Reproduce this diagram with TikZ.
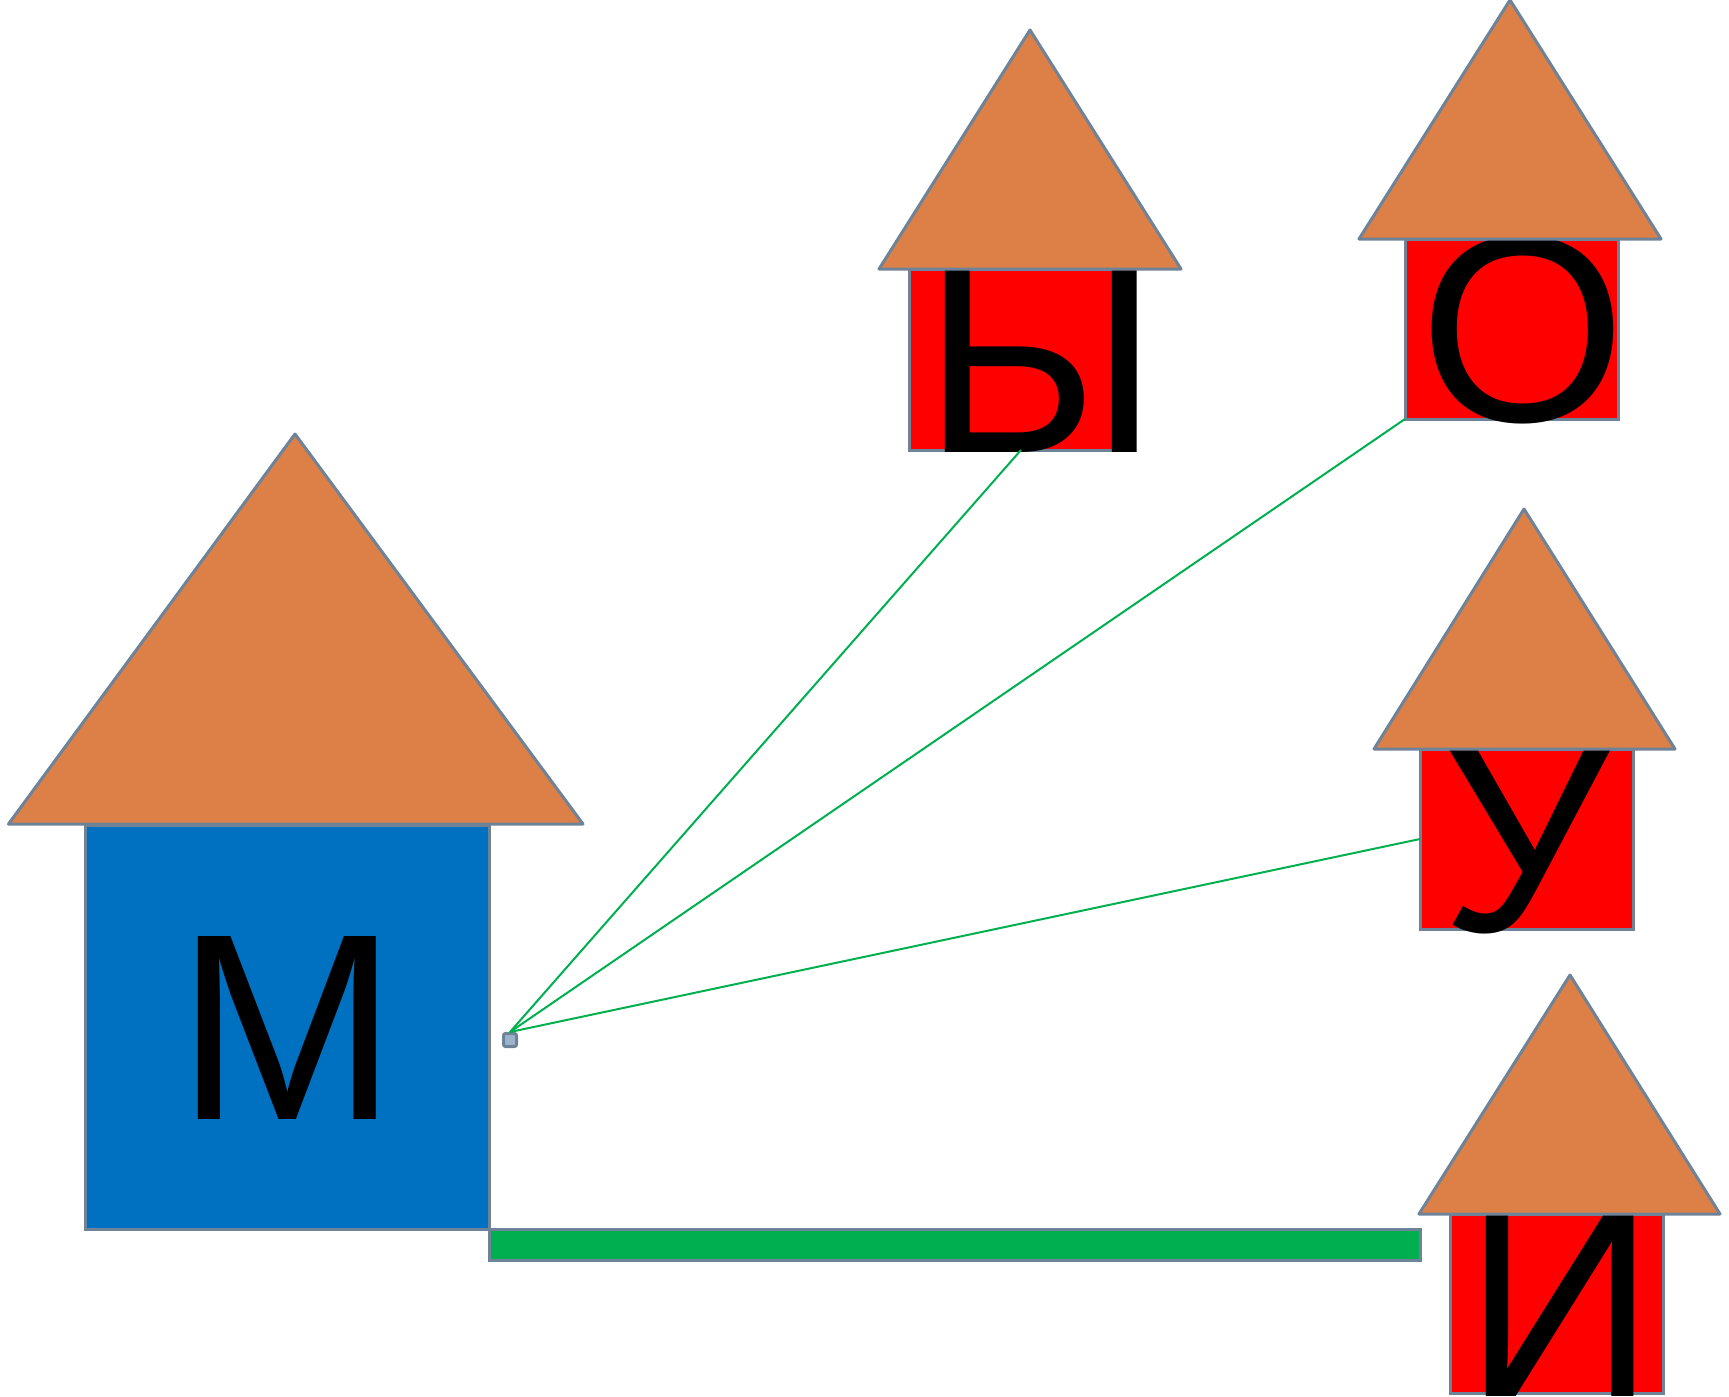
\documentclass[tikz,border=0pt]{standalone}
\usepackage{fontspec}
\setmainfont{Liberation Sans}
\definecolor{roof}{HTML}{DC8047}
\definecolor{edge}{HTML}{6E8397}
\definecolor{wall}{HTML}{FF0000}
\definecolor{mblue}{HTML}{0070C0}
\definecolor{lgreen}{HTML}{00B050}
\definecolor{hubfill}{HTML}{9CB3CB}

\begin{document}
\begin{tikzpicture}[x=0.5pt, y=-0.5pt,
  body/.style={draw=edge, line width=1.5pt, rectangle, inner sep=0pt, outer sep=0pt},
  roofs/.style={draw=edge, fill=roof, line width=1.5pt, line join=round},
  letter/.style={inner sep=0pt, outer sep=0pt, anchor=base, font=\fontsize{133}{133}\selectfont},
  wire/.style={lgreen, line width=1pt}]
\useasboundingbox (0,0) rectangle (1729,1397);

% walls
\node[body, fill=mblue, minimum width=202pt, minimum height=202pt] (bodyM) at (287,1027) {};
\node[body, fill=wall, minimum width=112pt, minimum height=90.5pt] (bodyYi) at (1021,359.5) {};
\node[body, fill=wall, minimum width=106.5pt, minimum height=90pt] (bodyO) at (1511.5,329) {};
\node[body, fill=wall, minimum width=106.5pt, minimum height=90pt] (bodyU) at (1526.5,839) {};
\node[body, fill=wall, minimum width=106.5pt, minimum height=89.5pt] (bodyI) at (1556.5,1303.5) {};

% letters
\node[letter] (letM) at (287.5,1119) {М};
\node[letter] (letYi) at (1041,452) {Ы};
\node[letter] (letO) at (1523,421) {О};
\node[letter] (letU) at (1526,931) {У};
\node[letter] (letI) at (1560,1396) {И};

% roofs
\draw[roofs] (8.5,824) -- (295,434) -- (583,824) -- cycle ;
\draw[roofs] (879,269) -- (1030,30) -- (1181,269) -- cycle ;
\draw[roofs] (1359,239) -- (1510,0) -- (1661,239) -- cycle ;
\draw[roofs] (1374,749) -- (1524,509) -- (1675,749) -- cycle ;
\draw[roofs] (1419,1214) -- (1570,975) -- (1720,1214) -- cycle ;

% bar and hub
\draw[draw=edge, fill=lgreen, line width=1.5pt] (bodyM.south east) rectangle (1420,1260) ;
\node[draw=edge, fill=hubfill, line width=1.5pt, minimum size=6.5pt, inner sep=0pt, rounded corners=1pt] (hub) at (510,1040) {};

% wires
\draw[wire] (hub.north) to (bodyYi.south) ;
\draw[wire] (hub.north) to (bodyO.south west) ;
\draw[wire] (hub.north) to (bodyU.west) ;
\end{tikzpicture}
\end{document}
